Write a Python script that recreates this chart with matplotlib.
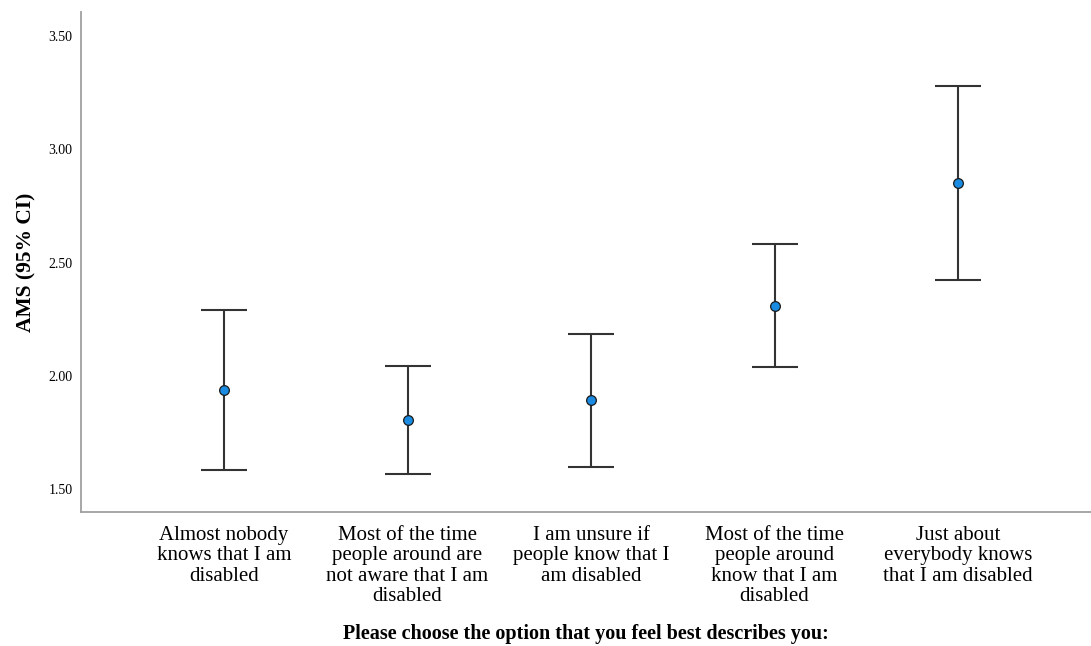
import matplotlib.pyplot as plt
import numpy as np

categories = [
    'Almost nobody\nknows that I am\ndisabled',
    'Most of the time\npeople around are\nnot aware that I am\ndisabled',
    'I am unsure if\npeople know that I\nam disabled',
    'Most of the time\npeople around\nknow that I am\ndisabled',
    'Just about\neverybody knows\nthat I am disabled',
]
means = [1.937, 1.805, 1.893, 2.308, 2.851]
ci_lower = [1.584, 1.566, 1.597, 2.039, 2.423]
ci_upper = [2.290, 2.043, 2.184, 2.582, 3.279]
yticks = [1.50, 2.00, 2.50, 3.00, 3.50]

plt.rcParams['font.family'] = ['Liberation Serif', 'DejaVu Serif']

fig = plt.figure(figsize=(10.91, 6.46), dpi=100)
ax = fig.add_axes([0.0742, 0.2074, 0.9258, 0.774])

x = np.arange(len(categories))
means_arr = np.array(means)
err = [means_arr - np.array(ci_lower), np.array(ci_upper) - means_arr]

ax.errorbar(x, means, yerr=err, fmt='none', ecolor='#333333',
            elinewidth=1.5, capsize=16.5, capthick=1.5, zorder=2)
ax.plot(x, means, 'o', color='#1a8be0', markeredgecolor='#1a1a1a',
        markeredgewidth=0.9, markersize=7, zorder=3)

ax.set_xlim(-0.78, 4.725)
ax.set_ylim(1.40, 3.606)
ax.set_yticks(yticks)
ax.set_yticklabels([f'{v:.2f}' for v in yticks], fontsize=10)
ax.set_xticks(x)
ax.set_xticklabels(categories, fontsize=15, linespacing=1.1)
ax.tick_params(axis='both', length=0)
ax.tick_params(axis='x', pad=10)
ax.tick_params(axis='y', pad=6)

for side in ['top', 'right']:
    ax.spines[side].set_visible(False)
for side in ['left', 'bottom']:
    ax.spines[side].set_color('#a0a0a0')
    ax.spines[side].set_linewidth(1.3)

ax.set_ylabel('AMS (95% CI)', fontsize=15.5, fontweight='bold', labelpad=9)
fig.text(0.537, 0.0186, 'Please choose the option that you feel best describes you:',
         ha='center', va='center', fontsize=14.5, fontweight='bold')

fig.savefig('out.png', dpi=100, facecolor='white')
